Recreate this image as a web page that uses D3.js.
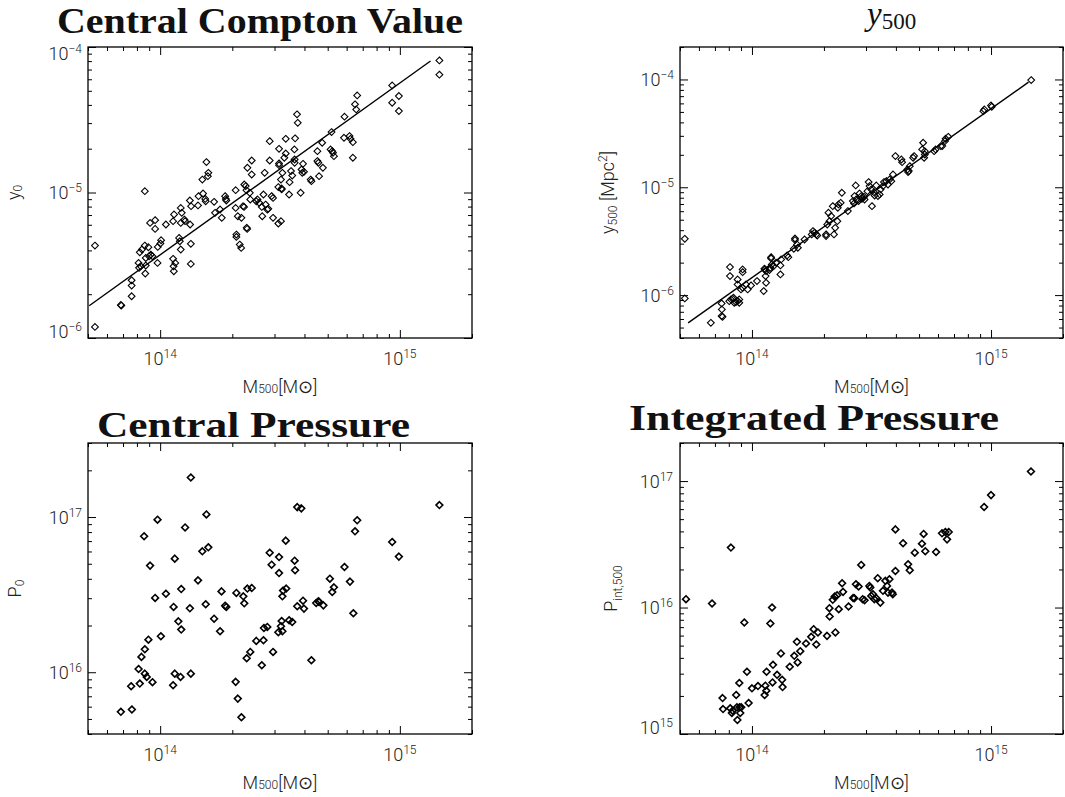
<!DOCTYPE html>
<html>
<head>
<meta charset="utf-8">
<script src="https://cdn.jsdelivr.net/npm/d3@7"></script>
<style>
  body { margin: 0; background: #fff; }
  svg { display: block; }
  .lab { font-family: Roboto, "DejaVu Sans", sans-serif; font-weight: 300; fill: #222; }
  .ttl { font-family: "Liberation Serif", "DejaVu Serif", serif; font-weight: bold; fill: #111; }
</style>
</head>
<body>
<svg id="chart" width="1065" height="797"></svg>
<script>
// values, stored as log10 (mass in Msun)

// central Compton value y0 vs M500
const comptonLogM = [13.728,13.728,13.836,13.838,13.881,13.881,13.881,13.910,13.912,13.919,13.915,13.924,13.936,13.936,13.940,13.940,13.938,13.951,13.954,13.961,13.968,13.958,13.979,13.979,13.989,13.990,14.001,14.004,14.024,14.054,14.057,14.056,14.063,14.054,14.058,14.079,14.082,14.086,14.086,14.090,14.086,14.101,14.104,14.124,14.129,14.125,14.128,14.128,14.158,14.160,14.179,14.176,14.188,14.190,14.193,14.199,14.201,14.225,14.229,14.250,14.257,14.271,14.274,14.276,14.315,14.315,14.318,14.318,14.324,14.332,14.338,14.339,14.346,14.350,14.351,14.357,14.360,14.361,14.363,14.364,14.374,14.376,14.382,14.382,14.401,14.406,14.413,14.424,14.426,14.431,14.436,14.440,14.447,14.451,14.457,14.457,14.465,14.471,14.471,14.493,14.496,14.493,14.496,14.496,14.504,14.504,14.507,14.507,14.510,14.518,14.524,14.524,14.538,14.540,14.546,14.551,14.560,14.561,14.561,14.563,14.571,14.574,14.586,14.590,14.593,14.596,14.600,14.628,14.631,14.656,14.656,14.660,14.663,14.676,14.679,14.711,14.715,14.718,14.721,14.725,14.767,14.769,14.790,14.794,14.804,14.804,14.813,14.818,14.822,14.968,14.968,14.996,14.996,15.165,15.165];
const comptonLogY0 = [-5.365,-5.924,-5.773,-5.777,-5.713,-5.640,-5.603,-5.484,-5.518,-5.507,-5.411,-5.392,-4.991,-5.365,-5.450,-5.502,-5.557,-5.376,-5.438,-5.427,-5.438,-5.209,-5.190,-5.250,-5.484,-5.374,-5.351,-5.328,-5.220,-5.456,-5.541,-5.507,-5.484,-5.197,-5.151,-5.312,-5.335,-5.392,-5.106,-5.140,-5.209,-5.186,-5.197,-5.055,-5.094,-5.220,-5.353,-5.491,-5.089,-5.025,-5.007,-4.911,-5.044,-5.060,-4.791,-4.888,-4.865,-5.064,-5.140,-5.117,-5.174,-5.025,-5.044,-5.055,-4.984,-5.106,-5.289,-5.305,-5.163,-5.358,-5.381,-5.174,-5.094,-5.099,-4.945,-4.956,-4.984,-5.243,-5.250,-4.830,-5.002,-5.048,-4.780,-4.876,-5.060,-5.048,-5.071,-5.099,-5.163,-5.014,-4.865,-5.083,-5.117,-5.112,-4.780,-4.647,-5.025,-5.037,-5.174,-5.213,-4.700,-4.963,-4.800,-4.812,-5.197,-4.911,-4.972,-4.979,-4.865,-4.761,-4.732,-4.631,-5.014,-4.929,-4.853,-4.883,-4.704,-4.796,-4.773,-4.628,-4.463,-4.521,-5.002,-4.842,-4.865,-4.803,-4.858,-4.911,-4.922,-4.784,-4.716,-4.796,-4.888,-4.658,-4.830,-4.704,-4.585,-4.716,-4.727,-4.750,-4.624,-4.479,-4.612,-4.631,-4.654,-4.761,-4.394,-4.429,-4.333,-4.264,-4.383,-4.337,-4.440,-4.092,-4.190];
const comptonFitLogM = [13.704, 15.128];
const comptonFitLogY0 = [-5.778, -4.096];

// integrated Compton parameter y500 [Mpc^2] vs M500
const y500LogM = [13.719,13.719,13.828,13.873,13.874,13.873,13.877,13.908,13.908,13.905,13.912,13.919,13.923,13.926,13.933,13.940,13.947,13.947,13.940,13.940,13.954,13.961,13.961,13.961,13.975,13.982,13.996,14.021,14.049,14.052,14.055,14.057,14.059,14.059,14.073,14.077,14.080,14.080,14.083,14.091,14.101,14.119,14.119,14.122,14.147,14.152,14.175,14.180,14.180,14.189,14.192,14.220,14.250,14.255,14.262,14.269,14.273,14.310,14.310,14.315,14.320,14.324,14.331,14.338,14.343,14.348,14.357,14.359,14.362,14.371,14.376,14.401,14.422,14.427,14.429,14.434,14.436,14.446,14.450,14.457,14.460,14.469,14.471,14.483,14.488,14.492,14.499,14.502,14.510,14.513,14.520,14.527,14.534,14.538,14.548,14.552,14.562,14.569,14.576,14.583,14.590,14.600,14.625,14.628,14.650,14.653,14.656,14.660,14.674,14.678,14.712,14.716,14.720,14.723,14.723,14.762,14.768,14.790,14.796,14.807,14.810,14.821,14.968,14.972,15.000,15.003,15.168];
const y500LogY = [-5.478,-6.031,-6.257,-6.077,-6.133,-6.195,-6.201,-5.740,-5.824,-6.056,-6.040,-6.034,-6.025,-6.071,-6.065,-6.056,-6.071,-6.040,-5.855,-5.901,-5.947,-5.762,-5.787,-5.932,-5.901,-5.947,-5.910,-5.870,-5.963,-5.756,-5.762,-5.824,-5.777,-5.886,-5.768,-5.747,-5.648,-5.660,-5.716,-5.731,-5.700,-5.808,-5.725,-5.669,-5.632,-5.648,-5.570,-5.475,-5.490,-5.530,-5.561,-5.484,-5.437,-5.406,-5.422,-5.437,-5.447,-5.437,-5.453,-5.345,-5.236,-5.314,-5.267,-5.175,-5.437,-5.376,-5.314,-5.190,-5.159,-5.144,-5.051,-5.221,-5.128,-5.150,-5.082,-4.983,-5.113,-5.128,-5.057,-5.082,-5.107,-5.088,-5.113,-5.036,-4.952,-4.989,-5.020,-5.175,-5.045,-5.076,-4.983,-5.082,-5.066,-5.020,-4.989,-4.952,-4.943,-4.974,-4.927,-4.943,-4.881,-4.711,-4.742,-4.767,-4.835,-4.859,-4.850,-4.804,-4.726,-4.711,-4.649,-4.587,-4.726,-4.696,-4.665,-4.665,-4.649,-4.618,-4.618,-4.572,-4.550,-4.532,-4.294,-4.278,-4.241,-4.253,-4.006];
const y500FitLogM = [13.733, 15.157];
const y500FitLogY = [-6.257, -4.025];

// central pressure P0 vs M500
const p0LogM = [13.836,13.882,13.879,13.915,13.910,13.922,13.936,13.951,13.936,13.944,13.968,13.933,13.958,13.979,13.989,14.003,14.024,14.054,14.061,14.085,14.056,14.061,14.076,14.088,14.088,14.104,14.124,14.128,14.128,14.158,14.176,14.190,14.193,14.201,14.225,14.250,14.256,14.271,14.276,14.315,14.318,14.324,14.339,14.347,14.351,14.361,14.364,14.376,14.382,14.401,14.424,14.431,14.433,14.447,14.457,14.465,14.471,14.493,14.496,14.496,14.504,14.507,14.510,14.510,14.513,14.524,14.526,14.538,14.551,14.561,14.563,14.572,14.572,14.589,14.596,14.600,14.631,14.651,14.660,14.663,14.681,14.708,14.718,14.725,14.769,14.792,14.806,14.813,14.822,14.968,14.996,15.165];
const p0LogP = [15.745,15.760,15.910,15.927,16.021,16.099,16.148,16.210,15.991,15.970,15.936,16.876,16.687,16.479,16.983,16.232,16.506,15.916,15.991,15.970,16.421,16.732,16.328,16.536,16.275,16.933,16.412,17.255,15.991,16.592,16.779,16.438,17.017,16.805,16.345,16.264,16.521,16.429,16.421,15.938,16.511,15.830,15.710,16.489,16.444,16.090,16.539,16.131,16.543,16.202,16.045,16.206,16.285,16.292,16.770,16.693,16.131,16.258,16.742,16.639,16.296,16.330,16.489,16.264,16.526,16.848,16.539,16.335,16.324,16.719,16.657,17.064,16.425,17.056,16.461,16.410,16.077,16.446,16.457,16.453,16.431,16.603,16.517,16.547,16.678,16.584,16.380,16.908,16.979,16.839,16.745,17.077];

// integrated pressure Pint,500 vs M500
const pintLogM = [13.724,13.833,13.877,13.879,13.909,13.916,13.919,13.912,13.934,13.937,13.939,13.948,13.951,13.955,13.947,13.968,13.979,13.986,14.000,14.025,14.053,14.056,14.060,14.061,14.077,14.084,14.086,14.088,14.105,14.121,14.126,14.128,14.158,14.177,14.188,14.191,14.202,14.226,14.248,14.258,14.269,14.276,14.314,14.324,14.325,14.349,14.338,14.346,14.356,14.363,14.377,14.381,14.404,14.423,14.428,14.435,14.446,14.457,14.463,14.471,14.491,14.495,14.499,14.506,14.512,14.520,14.526,14.537,14.548,14.558,14.565,14.569,14.575,14.586,14.589,14.600,14.600,14.632,14.653,14.660,14.681,14.711,14.718,14.725,14.770,14.795,14.809,14.816,14.823,14.971,15.000,15.167];
const pintLogP = [16.066,16.032,15.284,15.197,15.203,15.166,15.184,16.474,15.308,15.211,15.111,15.211,15.166,15.211,15.403,15.882,15.492,15.245,15.361,15.379,15.308,15.382,15.342,15.492,15.874,16.000,15.408,15.547,15.468,15.637,15.429,15.371,15.532,15.618,15.729,15.566,15.655,15.716,15.768,15.829,15.708,15.803,15.776,15.995,15.929,15.803,16.061,16.087,16.097,15.987,16.192,16.124,16.008,16.076,16.074,16.184,16.166,16.337,16.066,16.058,16.171,16.158,16.092,16.105,16.066,16.074,16.232,16.039,16.132,16.211,16.171,16.118,16.224,16.118,16.105,16.618,16.289,16.508,16.342,16.295,16.434,16.505,16.582,16.445,16.439,16.587,16.597,16.539,16.597,16.795,16.889,17.076];

// axis ranges
const massRange = [5e13, 2e15];
const y0Range = [1e-6, 1e-4];
const y500Range = [4e-7, 2e-4];
const p0Range = [4e15, 3e17];
const pintRange = [1e15, 2e17];

const pow10 = v => Math.pow(10, v);
const toPoints = (lx, ly) => lx.map((v, i) => [pow10(v), pow10(ly[i])]);

const panels = [
  { title: "Central Compton Value", tx: 57, ty: 33, tw: 406,
    left: 88, top: 47, w: 384, h: 291, yDomain: y0Range,
    pts: toPoints(comptonLogM, comptonLogY0), fit: toPoints(comptonFitLogM, comptonFitLogY0),
    ylab: [{t: "y"}, {t: "0", s: 12, dy: 2}], ylx: 20, labRight: 82, sw: 1.1 },
  { title: "y500", tx: 867, ty: 25, tw: 0,
    left: 680, top: 47, w: 383, h: 291, yDomain: y500Range,
    pts: toPoints(y500LogM, y500LogY), fit: toPoints(y500FitLogM, y500FitLogY),
    ylab: [{t: "y"}, {t: "500", s: 12, dy: 3}, {t: " [Mpc", dy: -3}, {t: "2", s: 12, dy: -7}, {t: "]", dy: 7}],
    ylx: 614, labRight: 674, sw: 1.1 },
  { title: "Central Pressure", tx: 97, ty: 437, tw: 313,
    left: 88, top: 443, w: 384, h: 291, yDomain: p0Range,
    pts: toPoints(p0LogM, p0LogP), fit: null,
    ylab: [{t: "P"}, {t: "0", s: 12, dy: 3}], ylx: 21, labRight: 82, sw: 1.6 },
  { title: "Integrated Pressure", tx: 629, ty: 430, tw: 370,
    left: 680, top: 443, w: 383, h: 291, yDomain: pintRange,
    pts: toPoints(pintLogM, pintLogP), fit: null,
    ylab: [{t: "P"}, {t: "int,500", s: 12, dy: 5}], ylx: 617, labRight: 673, sw: 1.6 }
];

const svg = d3.select("#chart");

const diamond = {
  draw(ctx, size) {
    const r = Math.sqrt(size) / 2;
    ctx.moveTo(0, -r); ctx.lineTo(r, 0); ctx.lineTo(0, r); ctx.lineTo(-r, 0); ctx.closePath();
  }
};

const isMajor = v => Math.abs(Math.log10(v) - Math.round(Math.log10(v))) < 1e-6;
const expo = v => Math.round(Math.log10(v));

function rich(sel, parts, big) {
  parts.forEach(p => {
    sel.append("tspan")
      .attr("font-size", p.s || big)
      .attr("dy", p.dy || 0)
      .text(p.t);
  });
}

function powerLabel(sel, v) {
  const e = expo(v);
  rich(sel, [{t: "10"}, {t: (e < 0 ? "\u2212" : "") + Math.abs(e), s: 12, dy: -7}], 18);
}

panels.forEach(p => {
  const g = svg.append("g");
  const x = d3.scaleLog().domain(massRange).range([p.left, p.left + p.w]);
  const y = d3.scaleLog().domain(p.yDomain).range([p.top + p.h, p.top]);
  const xt = x.ticks();
  const yt = y.ticks().filter(v => v >= p.yDomain[0] * 0.999 && v <= p.yDomain[1] * 1.001);

  // ticks on all four sides, pointing inward
  const sides = [
    { ax: d3.axisBottom(x).tickValues(xt), tr: `translate(0,${p.top + p.h})`, attr: "y2", sgn: -1 },
    { ax: d3.axisTop(x).tickValues(xt), tr: `translate(0,${p.top})`, attr: "y2", sgn: 1 },
    { ax: d3.axisLeft(y).tickValues(yt), tr: `translate(${p.left},0)`, attr: "x2", sgn: 1 },
    { ax: d3.axisRight(y).tickValues(yt), tr: `translate(${p.left + p.w},0)`, attr: "x2", sgn: -1 }
  ];
  sides.forEach(s => {
    const a = g.append("g").attr("transform", s.tr)
      .call(s.ax.tickFormat(() => "").tickSizeOuter(0));
    a.select(".domain").remove();
    a.selectAll(".tick line")
      .attr(s.attr, d => s.sgn * (isMajor(d) ? 8 : 4))
      .attr("stroke", "#000").attr("stroke-width", 1);
  });

  g.append("rect")
    .attr("x", p.left).attr("y", p.top)
    .attr("width", p.w).attr("height", p.h)
    .attr("fill", "none").attr("stroke", "#000").attr("stroke-width", 1.3);

  // tick labels
  xt.filter(isMajor).forEach(v => {
    const t = g.append("text").attr("class", "lab")
      .attr("x", x(v)).attr("y", p.top + p.h + 27)
      .attr("text-anchor", "middle");
    powerLabel(t, v);
  });
  yt.filter(isMajor).forEach(v => {
    let yy = y(v) + 6.5;
    if (Math.abs(y(v) - p.top) < 2) yy += 6;
    if (Math.abs(y(v) - (p.top + p.h)) < 2) yy -= 7;
    const t = g.append("text").attr("class", "lab")
      .attr("x", p.labRight).attr("y", yy)
      .attr("text-anchor", "end");
    powerLabel(t, v);
  });

  // axis titles
  const xl = g.append("text").attr("class", "lab")
    .attr("x", p.left + p.w / 2).attr("y", p.top + p.h + 55)
    .attr("text-anchor", "middle");
  rich(xl, [{t: "M"}, {t: "500", s: 12}, {t: "[M\u2299]"}], 18);

  const cy = p.top + p.h / 2;
  const yl = g.append("text").attr("class", "lab")
    .attr("transform", `translate(${p.ylx},${cy}) rotate(-90)`)
    .attr("text-anchor", "middle");
  rich(yl, p.ylab, 18);

  // panel title
  if (p.title === "y500") {
    const tt = g.append("text").attr("x", p.tx).attr("y", p.ty)
      .attr("font-family", "'Liberation Serif', 'DejaVu Serif', serif").attr("fill", "#111");
    tt.append("tspan").attr("font-style", "italic").attr("font-size", 33).text("y");
    tt.append("tspan").attr("font-size", 23).attr("dy", 4).text("500");
  } else {
    g.append("text").attr("class", "ttl")
      .attr("x", p.tx).attr("y", p.ty)
      .attr("font-size", 36)
      .attr("textLength", p.tw).attr("lengthAdjust", "spacingAndGlyphs")
      .text(p.title);
  }

  // fit line
  if (p.fit) {
    g.append("path")
      .datum(p.fit)
      .attr("d", d3.line().x(d => x(d[0])).y(d => y(d[1])))
      .attr("fill", "none").attr("stroke", "#000").attr("stroke-width", 1.4);
  }

  // diamonds
  g.append("g").selectAll("path")
    .data(p.pts)
    .join("path")
    .attr("transform", d => `translate(${x(d[0])},${y(d[1])})`)
    .attr("d", d3.symbol().type(diamond).size(46))
    .attr("fill", "none")
    .attr("stroke", "#000")
    .attr("stroke-width", p.sw);
});
</script>
</body>
</html>
